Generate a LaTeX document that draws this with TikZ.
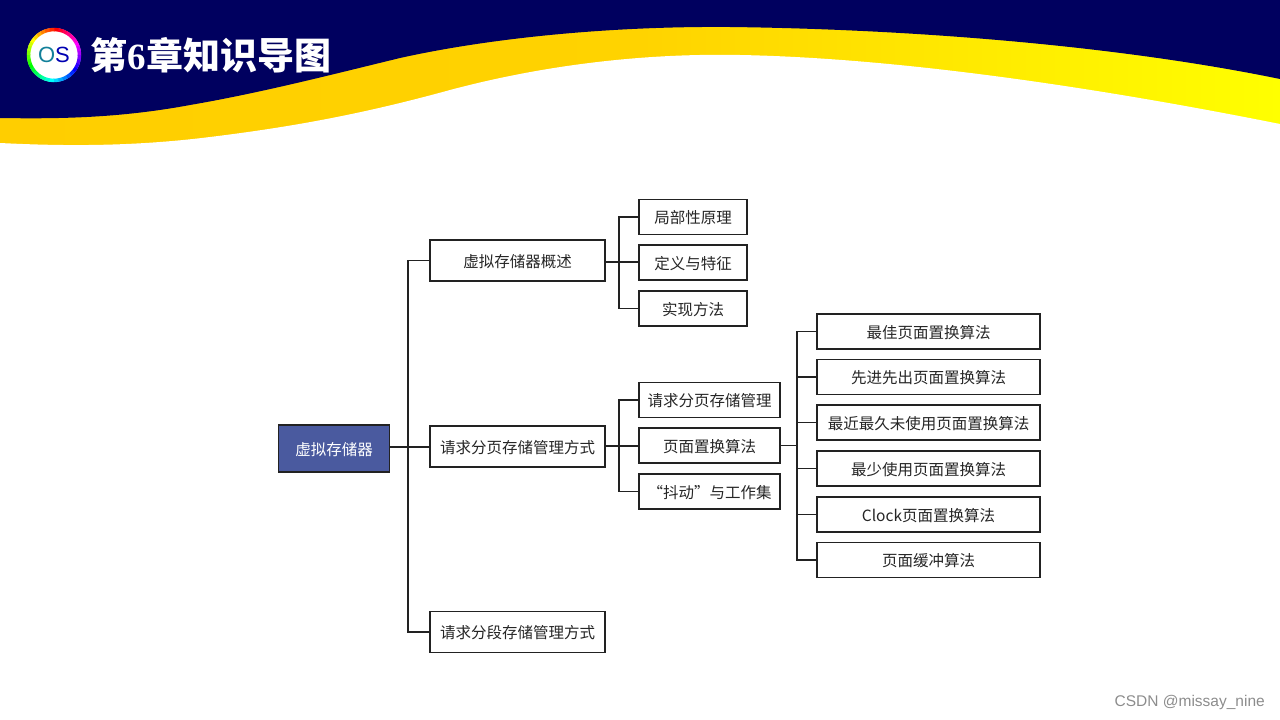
\documentclass[tikz,border=0pt]{standalone}
\usepackage{xcolor}
\usepackage{fontspec}
\setmainfont{Liberation Serif}
\newfontfamily\cjk{Noto Sans CJK SC}
\newfontfamily\wmark{Liberation Sans}
\usetikzlibrary{positioning}
\definecolor{navyband}{HTML}{00005F}
\definecolor{goldband}{HTML}{FFCE00}
\definecolor{goldmid}{HTML}{FFD300}
\definecolor{rootblue}{HTML}{4A5A9F}
\definecolor{lineink}{HTML}{222222}
\definecolor{ostone}{HTML}{12809A}
\tikzset{
  memobox/.style={draw=lineink, line width=1.5pt, fill=white, text=black!85, inner sep=0pt,
    text height=15pt, text depth=2pt, font=\fontsize{15.5}{18}\selectfont\cjk},
  rootbox/.style={memobox, fill=rootblue, text=white, minimum width=111pt, minimum height=47pt},
  topicbox/.style={memobox, minimum width=175pt, minimum height=41pt},
  shortbox/.style={memobox, minimum width=108pt, minimum height=35pt},
  midbox/.style={memobox, minimum width=141pt, minimum height=35pt},
  algobox/.style={memobox, minimum width=223pt, minimum height=35pt},
  link/.style={draw=lineink, line width=1.1pt}
}
\begin{document}
\begin{tikzpicture}[x=1pt, y=-1pt]
\useasboundingbox (0,0) rectangle (1280,720);

% banner
\fill[left color=goldband, right color=yellow, middle color=goldmid] (0,0) rectangle (1280,150);
\fill[white]
  (0,152) -- (0,143) .. controls (60,146) and (130,147) .. (210,137)
  .. controls (300,126) and (370,112) .. (450,90)
  .. controls (540,66) and (640,53) .. (740,55)
  .. controls (900,58) and (1100,88) .. (1280,124) -- (1280,152) -- cycle;
\fill[navyband]
  (0,0) -- (0,118) .. controls (60,119) and (120,118) .. (190,105)
  .. controls (260,93) and (330,75) .. (400,58)
  .. controls (490,38) and (610,26) .. (730,27)
  .. controls (900,29) and (1110,44) .. (1280,79) -- (1280,0) -- cycle;

% logo
\fill[white] (54,55) circle (27);
\foreach \k in {0,...,35} {
  \pgfmathsetmacro{\hue}{mod(360-\k*10,360)/360}
  \definecolor{ringtone}{hsb}{\hue,1,1}
  \draw[ringtone, line width=3.5pt] ({54+25.5*cos(-90+\k*10)},{55+25.5*sin(-90+\k*10)})
    arc[start angle=-90+\k*10, end angle=-90+\k*10+11, radius=25.5];
}
\node[text=blue!70!black, font=\fontsize{22}{24}\selectfont\wmark] (oslabel) at (54,55) {{\color{ostone}O}S};
\node[text=white, font=\fontsize{37}{40}\selectfont\bfseries] (title) at (211,55)
  {{\cjk 第}6{\cjk 章知识导图}};

% tree
\node[rootbox] (root) at (334,448.5) {虚拟存储器};

\node[topicbox] (overview) at (517.5,260.5) {虚拟存储器概述};
\node[topicbox] (paging) at (517.5,446.5) {请求分页存储管理方式};
\node[topicbox] (segment) at (517.5,632) {请求分段存储管理方式};

\node[shortbox] (locality) at (693,217) {局部性原理};
\node[shortbox] (define) at (693,262.5) {定义与特征};
\node[shortbox] (method) at (693,308.5) {实现方法};

\node[midbox] (pagemgmt) at (709.5,400) {请求分页存储管理};
\node[midbox] (replace) at (709.5,445.5) {页面置换算法};
\node[midbox] (thrash) at (709.5,491.5) {“抖动”与工作集};

\node[algobox] (opt) at (928.5,331.5) {最佳页面置换算法};
\node[algobox] (fifo) at (928.5,377) {先进先出页面置换算法};
\node[algobox] (lru) at (928.5,422.5) {最近最久未使用页面置换算法};
\node[algobox] (lfu) at (928.5,468.5) {最少使用页面置换算法};
\node[algobox] (clock) at (928.5,514.5) {Clock{\cjk 页面置换算法}};
\node[algobox] (buffer) at (928.5,560) {页面缓冲算法};

\coordinate (trunk) at (408,447);
\coordinate (fork) at (619,262);
\coordinate (forkb) at (619,446);
\coordinate (forkc) at (797,445.5);

\draw[link] (root.east |- trunk) -- (paging.west |- trunk);
\draw[link] (overview.west) -| (trunk) |- (segment.west);

\draw[link] (overview.east |- fork) -- (define.west |- fork);
\draw[link] (locality.west) -| (fork) |- (method.west);

\draw[link] (paging.east |- forkb) -- (replace.west |- forkb);
\draw[link] (pagemgmt.west) -| (forkb) |- (thrash.west);

\draw[link] (replace.east) -- (forkc);
\draw[link] (opt.west) -| (forkc) |- (buffer.west);
\foreach \algo in {fifo,lru,lfu,clock} {
  \draw[link] (\algo.west) -- (forkc |- \algo.west);
}

\node[text=black!45, font=\fontsize{15.5}{18}\selectfont\wmark, inner sep=0pt, anchor=east] (mark) at (1265,702) {CSDN @missay\_nine};
\end{tikzpicture}
\end{document}
